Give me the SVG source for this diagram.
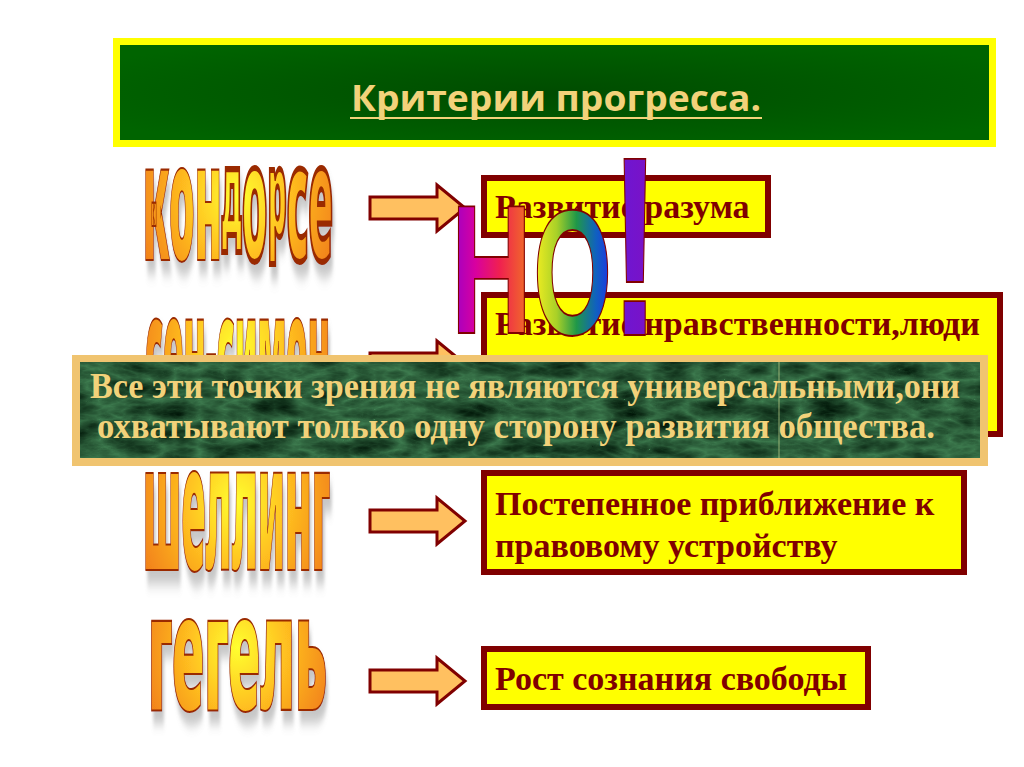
<svg xmlns="http://www.w3.org/2000/svg" width="1024" height="767" viewBox="0 0 1024 767">
<defs>
<style>
.box{fill:#ffff00;stroke:#800000;stroke-width:6}
.btxt{font-family:"Liberation Serif","Times New Roman",serif;font-weight:bold;font-size:34px;fill:#800000}
.arrow{fill:#ffc060;stroke:#800000;stroke-width:3;stroke-linejoin:miter}
.word{font-family:"Noto Sans","DejaVu Sans",sans-serif;font-weight:900;font-stretch:extra-condensed;font-size:40px;fill:url(#wordGrad);stroke:#9a2a00;stroke-width:1.5;vector-effect:non-scaling-stroke;filter:url(#shadow)}
.no{font-family:"Liberation Sans",Arial,sans-serif;font-weight:bold;font-size:100px;stroke:#800000;stroke-width:1.5;vector-effect:non-scaling-stroke;text-anchor:middle}
.otxt{font-family:"Liberation Serif","Times New Roman",serif;font-weight:bold;font-size:35px;fill:#f2d27a}
</style>
<radialGradient id="titleGrad" cx="0.5" cy="0.5" r="0.6">
<stop offset="0" stop-color="#004c00"/>
<stop offset="1" stop-color="#006400"/>
</radialGradient>
<radialGradient id="wordGrad" cx="0.5" cy="0.5" r="0.6">
<stop offset="0" stop-color="#ffff30"/>
<stop offset="0.45" stop-color="#ffc020"/>
<stop offset="1" stop-color="#f07818"/>
</radialGradient>
<linearGradient id="gH" x1="0" y1="0" x2="1" y2="0">
<stop offset="0" stop-color="#9a00c8"/>
<stop offset="0.3" stop-color="#d800a0"/>
<stop offset="0.6" stop-color="#f02050"/>
<stop offset="1" stop-color="#f07a20"/>
</linearGradient>
<linearGradient id="gO" x1="0" y1="0" x2="1" y2="0">
<stop offset="0" stop-color="#f8f020"/>
<stop offset="0.3" stop-color="#a8d028"/>
<stop offset="0.55" stop-color="#209848"/>
<stop offset="0.8" stop-color="#1060c0"/>
<stop offset="1" stop-color="#2030e8"/>
</linearGradient>
<linearGradient id="gX" x1="0" y1="0" x2="1" y2="0">
<stop offset="0" stop-color="#6818d8"/>
<stop offset="1" stop-color="#8010c0"/>
</linearGradient>
<filter id="shadow" x="-10%" y="-10%" width="130%" height="130%">
<feDropShadow dx="2" dy="3" stdDeviation="1.5" flood-color="#808080" flood-opacity="0.45"/>
</filter>
<filter id="marble" x="0" y="0" width="100%" height="100%" color-interpolation-filters="sRGB">
<feTurbulence type="turbulence" baseFrequency="0.02 0.05" numOctaves="4" seed="7" result="n"/>
<feColorMatrix in="n" type="matrix" values="-0.3 0 0 0 0.25  -0.5 0 0 0 0.5  -0.35 0 0 0 0.32  0 0 0 0 1"/>
</filter>
<path id="arrow" class="arrow" d="M370,-11 H437 V-23 L465,0 L437,23 V11 H370 Z"/>
</defs>

<rect x="0" y="0" width="1024" height="767" fill="#ffffff"/>

<g id="title">
<rect x="116.5" y="41.5" width="876" height="102" fill="url(#titleGrad)" stroke="#ffff00" stroke-width="7"/>
<text x="351" y="111" font-family="'Open Sans','Liberation Sans',sans-serif" font-weight="700" font-size="36" fill="#f2d27a" textLength="410" lengthAdjust="spacingAndGlyphs">Критерии прогресса.</text>
<line x1="350" y1="118" x2="762" y2="118" stroke="#f2d27a" stroke-width="2"/>
</g>

<g id="box1">
<rect class="box" x="484" y="178" width="284" height="57"/>
<text class="btxt" x="495" y="218">Развитие разума</text>
</g>
<g id="box2">
<rect class="box" x="484" y="295" width="516" height="139"/>
<text class="btxt" x="495" y="335">Развитие нравственности,люди</text>
</g>
<g id="box3">
<rect class="box" x="484" y="473" width="480" height="99"/>
<text class="btxt" x="495" y="515">Постепенное приближение к</text>
<text class="btxt" x="495" y="557">правовому устройству</text>
</g>
<g id="box4">
<rect class="box" x="484" y="649" width="384" height="58"/>
<text class="btxt" x="495" y="690">Рост сознания свободы</text>
</g>

<g id="connectors">
<use href="#arrow" transform="translate(0,208)"/>
<use href="#arrow" transform="translate(0,364)"/>
<use href="#arrow" transform="translate(0,521)"/>
<use href="#arrow" transform="translate(0,681)"/>
</g>

<g id="condorcet">
<text class="word" transform="translate(143,260) scale(1,4.1)" textLength="190" lengthAdjust="spacingAndGlyphs">кон<tspan dy="-6" font-size="29">д</tspan><tspan dy="6">о</tspan><tspan dy="-6" font-size="29">р</tspan><tspan dy="6">се</tspan></text>
</g>
<g id="saint-simon">
<text class="word" transform="translate(145,410) scale(1,4.1)" textLength="185" lengthAdjust="spacingAndGlyphs">сен-симон</text>
</g>
<g id="schelling">
<text class="word" transform="translate(143,570) scale(1,4.4)" textLength="187" lengthAdjust="spacingAndGlyphs">шеллинг</text>
</g>
<g id="hegel">
<text class="word" transform="translate(148,710) scale(1,4.05)" textLength="179" lengthAdjust="spacingAndGlyphs">гегель</text>
</g>

<g id="no">
<text class="no" fill="url(#gH)" transform="translate(491.5,333) scale(1.12,1.83)">Н</text>
<text class="no" fill="url(#gO)" transform="translate(572.5,334) scale(1.01,1.79)">О</text>
<text class="no" fill="url(#gX)" transform="translate(635,335) scale(1.5,2.56)">!</text>
</g>

<g id="note">
<rect x="75.5" y="358.5" width="909" height="104" fill="#f0c470" stroke="#f0c470" stroke-width="7"/>
<rect x="80" y="362" width="900" height="96" filter="url(#marble)"/>
<line x1="779" y1="362" x2="779" y2="458" stroke="#c8d890" stroke-width="1" opacity="0.7"/>
<text class="otxt" x="90" y="398" textLength="870" lengthAdjust="spacingAndGlyphs">Все эти точки зрения не являются универсальными,они</text>
<text class="otxt" x="97" y="438" textLength="838" lengthAdjust="spacingAndGlyphs">охватывают только одну сторону развития общества.</text>
</g>
</svg>
